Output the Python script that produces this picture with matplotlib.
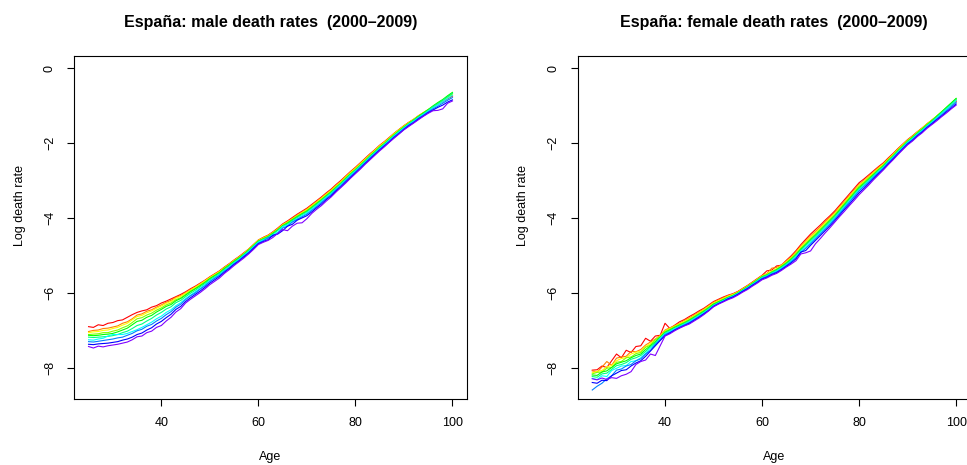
import matplotlib
matplotlib.use("Agg")
import matplotlib.pyplot as plt

plt.rcParams['font.family'] = ['Liberation Sans', 'DejaVu Sans']

ages = list(range(25, 101))
years = list(range(2000, 2010))

# log death rates, ages 25..100, one list per year
m2000 = [-6.89, -6.91, -6.84, -6.86, -6.80, -6.78, -6.73, -6.71, -6.64, -6.57,
         -6.51, -6.47, -6.44, -6.37, -6.33, -6.26, -6.21, -6.15, -6.09, -6.03,
         -5.96, -5.88, -5.81, -5.73, -5.65, -5.56, -5.48, -5.40, -5.30, -5.21,
         -5.11, -5.02, -4.92, -4.82, -4.70, -4.58, -4.51, -4.45, -4.36, -4.26,
         -4.15, -4.07, -3.98, -3.89, -3.81, -3.73, -3.63, -3.53, -3.43, -3.32,
         -3.22, -3.10, -2.99, -2.87, -2.75, -2.64, -2.52, -2.40, -2.28, -2.17,
         -2.05, -1.95, -1.84, -1.73, -1.63, -1.53, -1.44, -1.36, -1.27, -1.19,
         -1.11, -1.03, -0.96, -0.89, -0.81, -0.74]
m2001 = [-7.02, -6.99, -6.98, -6.94, -6.93, -6.90, -6.87, -6.80, -6.76, -6.68,
         -6.58, -6.55, -6.48, -6.44, -6.37, -6.31, -6.24, -6.19, -6.11, -6.06,
         -5.98, -5.90, -5.83, -5.74, -5.66, -5.57, -5.49, -5.41, -5.31, -5.22,
         -5.12, -5.03, -4.93, -4.82, -4.70, -4.58, -4.51, -4.45, -4.37, -4.27,
         -4.16, -4.09, -4.00, -3.91, -3.83, -3.75, -3.65, -3.55, -3.45, -3.34,
         -3.24, -3.12, -3.01, -2.88, -2.76, -2.65, -2.53, -2.41, -2.29, -2.18,
         -2.06, -1.96, -1.85, -1.73, -1.63, -1.53, -1.44, -1.36, -1.26, -1.18,
         -1.10, -1.02, -0.94, -0.87, -0.79, -0.71]
m2002 = [-7.05, -7.03, -7.02, -6.99, -6.98, -6.94, -6.91, -6.85, -6.80, -6.71,
         -6.62, -6.59, -6.52, -6.47, -6.40, -6.34, -6.27, -6.22, -6.13, -6.08,
         -6.00, -5.92, -5.84, -5.76, -5.67, -5.58, -5.50, -5.42, -5.32, -5.23,
         -5.13, -5.04, -4.94, -4.83, -4.71, -4.59, -4.53, -4.47, -4.38, -4.29,
         -4.18, -4.10, -4.02, -3.93, -3.85, -3.77, -3.67, -3.57, -3.47, -3.36,
         -3.26, -3.14, -3.03, -2.90, -2.78, -2.67, -2.55, -2.43, -2.31, -2.19,
         -2.07, -1.97, -1.86, -1.74, -1.64, -1.54, -1.45, -1.36, -1.27, -1.18,
         -1.10, -1.02, -0.94, -0.86, -0.78, -0.69]
m2003 = [-7.10, -7.09, -7.08, -7.05, -7.05, -7.01, -6.98, -6.92, -6.87, -6.78,
         -6.68, -6.65, -6.58, -6.53, -6.45, -6.39, -6.31, -6.26, -6.17, -6.12,
         -6.03, -5.94, -5.87, -5.78, -5.70, -5.60, -5.52, -5.44, -5.33, -5.24,
         -5.14, -5.05, -4.95, -4.84, -4.72, -4.60, -4.54, -4.48, -4.39, -4.30,
         -4.19, -4.11, -4.03, -3.94, -3.87, -3.79, -3.69, -3.59, -3.49, -3.38,
         -3.28, -3.16, -3.05, -2.92, -2.80, -2.69, -2.57, -2.45, -2.33, -2.21,
         -2.09, -1.99, -1.87, -1.76, -1.65, -1.55, -1.46, -1.37, -1.28, -1.19,
         -1.11, -1.02, -0.93, -0.85, -0.75, -0.66]
m2004 = [-7.12, -7.13, -7.12, -7.10, -7.09, -7.07, -7.03, -6.98, -6.93, -6.84,
         -6.75, -6.72, -6.64, -6.59, -6.50, -6.43, -6.35, -6.30, -6.20, -6.14,
         -6.05, -5.96, -5.88, -5.80, -5.71, -5.61, -5.53, -5.45, -5.34, -5.25,
         -5.15, -5.06, -4.96, -4.85, -4.73, -4.61, -4.55, -4.49, -4.40, -4.31,
         -4.20, -4.13, -4.04, -3.96, -3.88, -3.81, -3.71, -3.61, -3.51, -3.40,
         -3.30, -3.18, -3.07, -2.94, -2.82, -2.71, -2.59, -2.47, -2.34, -2.23,
         -2.11, -2.01, -1.89, -1.78, -1.67, -1.57, -1.47, -1.38, -1.28, -1.19,
         -1.10, -1.00, -0.91, -0.83, -0.73, -0.64]
m2005 = [-7.17, -7.18, -7.17, -7.16, -7.15, -7.13, -7.10, -7.05, -7.01, -6.94,
         -6.86, -6.82, -6.74, -6.67, -6.58, -6.51, -6.42, -6.36, -6.25, -6.19,
         -6.09, -6.00, -5.92, -5.83, -5.74, -5.64, -5.56, -5.47, -5.37, -5.27,
         -5.17, -5.08, -4.97, -4.87, -4.74, -4.62, -4.56, -4.50, -4.42, -4.32,
         -4.22, -4.15, -4.06, -3.98, -3.90, -3.83, -3.73, -3.63, -3.53, -3.42,
         -3.32, -3.20, -3.08, -2.96, -2.83, -2.72, -2.60, -2.48, -2.35, -2.24,
         -2.12, -2.02, -1.90, -1.79, -1.68, -1.58, -1.48, -1.39, -1.30, -1.21,
         -1.12, -1.02, -0.94, -0.85, -0.76, -0.67]
m2006 = [-7.24, -7.25, -7.22, -7.20, -7.14, -7.10, -7.10, -7.10, -7.07, -7.02,
         -6.97, -6.91, -6.84, -6.77, -6.68, -6.61, -6.51, -6.44, -6.33, -6.25,
         -6.14, -6.05, -5.96, -5.87, -5.77, -5.67, -5.58, -5.50, -5.39, -5.30,
         -5.19, -5.10, -4.99, -4.89, -4.76, -4.64, -4.58, -4.53, -4.44, -4.37,
         -4.22, -4.18, -4.09, -4.01, -3.93, -3.86, -3.76, -3.66, -3.55, -3.44,
         -3.34, -3.22, -3.10, -2.98, -2.85, -2.74, -2.62, -2.50, -2.37, -2.26,
         -2.14, -2.03, -1.92, -1.80, -1.70, -1.59, -1.49, -1.41, -1.31, -1.23,
         -1.14, -1.05, -0.97, -0.89, -0.80, -0.72]
m2007 = [-7.29, -7.30, -7.28, -7.26, -7.24, -7.22, -7.19, -7.17, -7.12, -7.07,
         -7.00, -6.96, -6.88, -6.83, -6.74, -6.67, -6.57, -6.49, -6.37, -6.29,
         -6.17, -6.07, -5.99, -5.89, -5.80, -5.69, -5.60, -5.52, -5.41, -5.32,
         -5.21, -5.12, -5.01, -4.91, -4.78, -4.66, -4.60, -4.52, -4.47, -4.40,
         -4.26, -4.21, -4.10, -4.03, -3.96, -3.89, -3.79, -3.69, -3.58, -3.47,
         -3.37, -3.24, -3.13, -3.00, -2.88, -2.76, -2.64, -2.52, -2.39, -2.28,
         -2.16, -2.05, -1.94, -1.82, -1.72, -1.61, -1.51, -1.43, -1.33, -1.25,
         -1.16, -1.08, -1.01, -0.93, -0.85, -0.78]
m2008 = [-7.36, -7.37, -7.35, -7.34, -7.33, -7.31, -7.29, -7.25, -7.22, -7.17,
         -7.10, -7.06, -6.98, -6.92, -6.82, -6.75, -6.65, -6.56, -6.43, -6.35,
         -6.22, -6.12, -6.03, -5.94, -5.84, -5.73, -5.64, -5.55, -5.44, -5.34,
         -5.23, -5.14, -5.03, -4.93, -4.80, -4.68, -4.62, -4.57, -4.45, -4.42,
         -4.33, -4.21, -4.16, -4.05, -3.99, -3.93, -3.83, -3.72, -3.62, -3.50,
         -3.40, -3.27, -3.16, -3.03, -2.91, -2.79, -2.67, -2.54, -2.42, -2.30,
         -2.18, -2.07, -1.96, -1.84, -1.74, -1.63, -1.53, -1.45, -1.35, -1.27,
         -1.18, -1.11, -1.04, -0.98, -0.90, -0.84]
m2009 = [-7.42, -7.46, -7.41, -7.43, -7.40, -7.38, -7.36, -7.33, -7.30, -7.24,
         -7.16, -7.14, -7.05, -7.01, -6.91, -6.86, -6.74, -6.64, -6.50, -6.41,
         -6.26, -6.16, -6.07, -5.98, -5.88, -5.77, -5.68, -5.59, -5.47, -5.37,
         -5.26, -5.16, -5.06, -4.95, -4.83, -4.70, -4.64, -4.59, -4.51, -4.40,
         -4.30, -4.33, -4.21, -4.13, -4.12, -4.01, -3.87, -3.76, -3.66, -3.54,
         -3.43, -3.30, -3.18, -3.06, -2.93, -2.81, -2.69, -2.56, -2.44, -2.32,
         -2.20, -2.09, -1.97, -1.86, -1.75, -1.64, -1.55, -1.46, -1.37, -1.28,
         -1.20, -1.13, -1.12, -1.08, -0.93, -0.87]

f2000 = [-8.05, -8.04, -7.94, -7.98, -7.80, -7.62, -7.72, -7.52, -7.58, -7.42,
         -7.40, -7.20, -7.28, -7.14, -7.12, -6.80, -6.94, -6.85, -6.76, -6.70,
         -6.62, -6.55, -6.47, -6.40, -6.31, -6.22, -6.16, -6.10, -6.05, -6.01,
         -5.95, -5.87, -5.79, -5.70, -5.61, -5.52, -5.40, -5.38, -5.27, -5.25,
         -5.12, -5.00, -4.86, -4.70, -4.56, -4.42, -4.30, -4.18, -4.05, -3.93,
         -3.80, -3.65, -3.50, -3.35, -3.20, -3.05, -2.95, -2.84, -2.73, -2.62,
         -2.52, -2.39, -2.27, -2.14, -2.02, -1.90, -1.80, -1.69, -1.59, -1.48,
         -1.38, -1.28, -1.18, -1.08, -0.98, -0.88]
f2001 = [-8.07, -8.10, -7.97, -7.82, -7.92, -7.73, -7.70, -7.68, -7.55, -7.56,
         -7.50, -7.38, -7.30, -7.22, -7.12, -6.98, -6.92, -6.86, -6.80, -6.72,
         -6.66, -6.58, -6.50, -6.42, -6.33, -6.24, -6.18, -6.12, -6.06, -6.02,
         -5.96, -5.88, -5.80, -5.71, -5.62, -5.53, -5.47, -5.33, -5.31, -5.24,
         -5.14, -5.03, -4.89, -4.74, -4.60, -4.47, -4.35, -4.23, -4.09, -3.97,
         -3.84, -3.69, -3.54, -3.39, -3.24, -3.09, -2.99, -2.87, -2.76, -2.64,
         -2.54, -2.41, -2.29, -2.15, -2.03, -1.91, -1.81, -1.70, -1.59, -1.48,
         -1.38, -1.28, -1.17, -1.07, -0.96, -0.86]
f2002 = [-8.12, -8.08, -8.06, -7.96, -7.93, -7.80, -7.74, -7.72, -7.62, -7.57,
         -7.55, -7.42, -7.34, -7.24, -7.14, -7.00, -6.94, -6.88, -6.81, -6.75,
         -6.68, -6.60, -6.52, -6.44, -6.35, -6.26, -6.20, -6.14, -6.08, -6.03,
         -5.97, -5.89, -5.81, -5.72, -5.63, -5.54, -5.48, -5.41, -5.34, -5.26,
         -5.16, -5.05, -4.92, -4.76, -4.63, -4.50, -4.38, -4.26, -4.12, -4.00,
         -3.87, -3.72, -3.57, -3.42, -3.27, -3.12, -3.01, -2.90, -2.78, -2.67,
         -2.56, -2.43, -2.30, -2.17, -2.04, -1.92, -1.82, -1.70, -1.60, -1.48,
         -1.38, -1.27, -1.16, -1.06, -0.95, -0.84]
f2003 = [-8.15, -8.11, -8.10, -8.00, -7.98, -7.84, -7.82, -7.72, -7.70, -7.61,
         -7.58, -7.44, -7.38, -7.24, -7.16, -7.02, -6.96, -6.89, -6.83, -6.77,
         -6.70, -6.62, -6.54, -6.46, -6.37, -6.28, -6.22, -6.16, -6.10, -6.05,
         -5.98, -5.90, -5.82, -5.73, -5.64, -5.55, -5.50, -5.42, -5.36, -5.27,
         -5.18, -5.07, -4.94, -4.80, -4.67, -4.54, -4.42, -4.29, -4.16, -4.03,
         -3.90, -3.75, -3.60, -3.45, -3.30, -3.15, -3.04, -2.92, -2.81, -2.69,
         -2.58, -2.44, -2.32, -2.18, -2.06, -1.93, -1.83, -1.71, -1.61, -1.49,
         -1.39, -1.27, -1.16, -1.04, -0.93, -0.81]
f2004 = [-8.18, -8.19, -8.10, -8.07, -7.98, -7.88, -7.84, -7.80, -7.72, -7.66,
         -7.62, -7.50, -7.40, -7.29, -7.17, -7.04, -6.98, -6.91, -6.85, -6.79,
         -6.72, -6.64, -6.56, -6.48, -6.39, -6.29, -6.23, -6.17, -6.11, -6.06,
         -5.99, -5.91, -5.83, -5.74, -5.65, -5.56, -5.51, -5.44, -5.37, -5.29,
         -5.20, -5.09, -4.97, -4.82, -4.70, -4.57, -4.45, -4.32, -4.19, -4.06,
         -3.93, -3.78, -3.63, -3.48, -3.33, -3.18, -3.07, -2.95, -2.83, -2.71,
         -2.60, -2.46, -2.34, -2.20, -2.08, -1.95, -1.84, -1.73, -1.62, -1.51,
         -1.40, -1.28, -1.16, -1.04, -0.92, -0.80]
f2005 = [-8.22, -8.24, -8.15, -8.13, -8.03, -7.93, -7.90, -7.85, -7.76, -7.72,
         -7.66, -7.55, -7.43, -7.32, -7.19, -7.06, -7.00, -6.93, -6.87, -6.81,
         -6.74, -6.66, -6.58, -6.50, -6.41, -6.31, -6.25, -6.19, -6.12, -6.07,
         -6.00, -5.92, -5.84, -5.75, -5.66, -5.57, -5.52, -5.45, -5.39, -5.31,
         -5.22, -5.12, -4.99, -4.85, -4.72, -4.60, -4.48, -4.35, -4.22, -4.09,
         -3.96, -3.81, -3.66, -3.51, -3.36, -3.21, -3.10, -2.98, -2.85, -2.73,
         -2.62, -2.48, -2.35, -2.22, -2.09, -1.96, -1.86, -1.74, -1.64, -1.52,
         -1.42, -1.30, -1.18, -1.07, -0.95, -0.83]
f2006 = [-8.27, -8.30, -8.20, -8.22, -8.06, -8.00, -7.94, -7.93, -7.82, -7.80,
         -7.72, -7.60, -7.46, -7.36, -7.20, -7.08, -7.02, -6.94, -6.89, -6.82,
         -6.76, -6.68, -6.60, -6.52, -6.43, -6.33, -6.26, -6.20, -6.13, -6.08,
         -6.01, -5.93, -5.85, -5.77, -5.68, -5.59, -5.54, -5.47, -5.41, -5.33,
         -5.24, -5.14, -5.02, -4.88, -4.76, -4.64, -4.51, -4.39, -4.25, -4.13,
         -3.99, -3.84, -3.69, -3.54, -3.39, -3.24, -3.13, -3.00, -2.88, -2.75,
         -2.64, -2.50, -2.37, -2.24, -2.11, -1.98, -1.88, -1.76, -1.66, -1.54,
         -1.44, -1.32, -1.21, -1.09, -0.98, -0.86]
f2007 = [-8.58, -8.48, -8.40, -8.28, -8.20, -8.05, -8.02, -7.94, -7.90, -7.80,
         -7.75, -7.62, -7.52, -7.36, -7.24, -7.10, -7.04, -6.97, -6.90, -6.84,
         -6.78, -6.70, -6.62, -6.54, -6.45, -6.34, -6.27, -6.21, -6.14, -6.09,
         -6.02, -5.94, -5.86, -5.78, -5.69, -5.60, -5.55, -5.48, -5.43, -5.35,
         -5.26, -5.16, -5.05, -4.91, -4.80, -4.68, -4.55, -4.42, -4.29, -4.16,
         -4.02, -3.87, -3.72, -3.57, -3.42, -3.27, -3.15, -3.03, -2.90, -2.78,
         -2.66, -2.52, -2.39, -2.26, -2.13, -2.00, -1.90, -1.78, -1.68, -1.56,
         -1.46, -1.35, -1.24, -1.13, -1.02, -0.91]
f2008 = [-8.38, -8.40, -8.32, -8.33, -8.20, -8.13, -8.06, -8.04, -7.94, -7.86,
         -7.80, -7.68, -7.54, -7.40, -7.26, -7.13, -7.06, -6.98, -6.92, -6.86,
         -6.80, -6.72, -6.64, -6.55, -6.46, -6.35, -6.28, -6.22, -6.15, -6.10,
         -6.03, -5.95, -5.88, -5.79, -5.71, -5.62, -5.57, -5.50, -5.45, -5.37,
         -5.28, -5.19, -5.08, -4.90, -4.86, -4.72, -4.59, -4.46, -4.33, -4.20,
         -4.06, -3.91, -3.76, -3.62, -3.47, -3.32, -3.20, -3.07, -2.94, -2.81,
         -2.69, -2.55, -2.42, -2.28, -2.15, -2.02, -1.92, -1.80, -1.70, -1.58,
         -1.48, -1.37, -1.27, -1.16, -1.06, -0.95]
f2009 = [-8.28, -8.31, -8.26, -8.30, -8.25, -8.27, -8.20, -8.16, -8.09, -7.90,
         -7.82, -7.78, -7.62, -7.66, -7.40, -7.14, -7.08, -7.00, -6.93, -6.87,
         -6.82, -6.74, -6.66, -6.57, -6.47, -6.36, -6.29, -6.23, -6.17, -6.12,
         -6.05, -5.97, -5.90, -5.81, -5.73, -5.64, -5.59, -5.52, -5.47, -5.39,
         -5.30, -5.22, -5.13, -4.95, -4.92, -4.87, -4.68, -4.54, -4.39, -4.25,
         -4.10, -3.95, -3.81, -3.66, -3.52, -3.37, -3.24, -3.11, -2.97, -2.84,
         -2.71, -2.57, -2.44, -2.30, -2.17, -2.04, -1.94, -1.82, -1.72, -1.60,
         -1.50, -1.40, -1.29, -1.19, -1.08, -0.98]

male = [m2000, m2001, m2002, m2003, m2004, m2005, m2006, m2007, m2008, m2009]
female = [f2000, f2001, f2002, f2003, f2004, f2005, f2006, f2007, f2008, f2009]

# rainbow palette, red (first year) to violet (last year)
colors = ['#FF0000', '#FF8000', '#FFFF00', '#80FF00', '#00FF00',
          '#00FF80', '#00FFFF', '#0080FF', '#0000FF', '#8000FF']

W, H = 967, 465
fig = plt.figure(figsize=(W / 100, H / 100), dpi=100)
fig.patch.set_facecolor('white')

ax_m = fig.add_axes([74 / W, 66 / H, 393 / W, 343 / H])
ax_f = fig.add_axes([577.7 / W, 66 / H, 393 / W, 343 / H])

panels = [(ax_m, male, 'España: male death rates  (2000\u20132009)', 270.5),
          (ax_f, female, 'España: female death rates  (2000\u20132009)', 774.2)]

for ax, rates, title, xc in panels:
    for vals, col in zip(rates, colors):
        ax.plot(ages, vals, color=col, lw=0.8)
    ax.set_xlim(22, 103)
    ax.set_ylim(-8.82, 0.33)
    ax.set_xticks([40, 60, 80, 100])
    ax.set_yticks([0, -2, -4, -6, -8])
    ax.tick_params(direction='out', length=5, width=0.8, labelsize=9,
                   colors='black', top=False, right=False)
    ax.tick_params(axis='x', pad=8)
    ax.tick_params(axis='y', pad=8)
    for lab in ax.get_yticklabels():
        lab.set_rotation(90)
        lab.set_va('center')
    for sp in ax.spines.values():
        sp.set_linewidth(0.8)
        sp.set_color('black')
    fig.text(xc / W, 1 - 23 / H, title, ha='center', va='center',
             fontsize=11.5, fontweight='bold')
    fig.text(xc / W, 1 - 457 / H, 'Age', ha='center', va='center', fontsize=9)

fig.text(20 / W, 1 - 206 / H, 'Log death rate', rotation=90,
         ha='center', va='center', fontsize=9)
fig.text(523 / W, 1 - 206 / H, 'Log death rate', rotation=90,
         ha='center', va='center', fontsize=9)

fig.savefig('out.png', dpi=100)
